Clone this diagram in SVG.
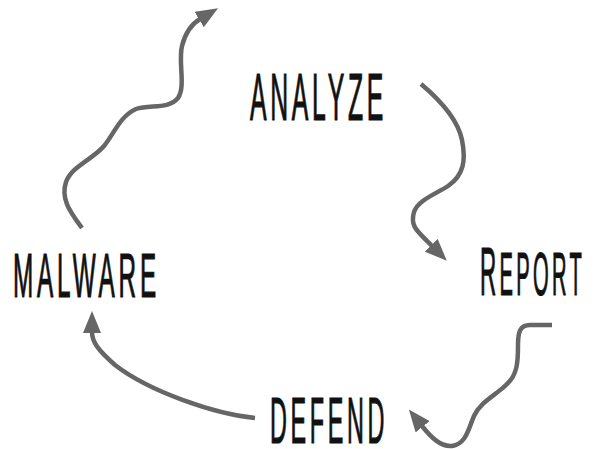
<svg xmlns="http://www.w3.org/2000/svg" width="594" height="449" viewBox="0 0 594 449">
  <style>
    .label { font-family: "Liberation Sans Narrow", "Liberation Sans", "DejaVu Sans Condensed", sans-serif; font-weight: normal; fill: #111; letter-spacing: 10px; stroke: #111; stroke-width: 1.2; }
    .flow { fill: none; stroke: #666; stroke-width: 4.5; stroke-linecap: butt; marker-end: url(#head); }
  </style>
  <defs>
    <marker id="head" viewBox="0 0 22 18" refX="1" refY="9" markerWidth="22" markerHeight="18" markerUnits="userSpaceOnUse" orient="auto">
      <path d="M0,0 L22,9 L0,18 Z" fill="#666"/>
    </marker>
  </defs>
  <rect width="594" height="449" fill="#fff"/>

  <g id="connectors">
    <!-- malware up towards analyze -->
    <path class="flow" d="M82,228 C72,214 60,200 66,182 C72,166 92,160 104,146 C114,134 120,116 136,109 C150,104 168,110 178,98 C186,86 178,62 182,46 C185,34 190,25 200,19"/>
    <!-- analyze down to report -->
    <path class="flow" d="M421,84 C440,100 458,120 462,140 C466,160 464,175 448,186 C436,194 418,200 414,212 C410,226 416,230 432,246"/>
    <!-- report down to defend -->
    <path class="flow" d="M552,325 L530,325 C520,325 518,332 518,345 C518,360 518,375 506,385 C496,395 480,402 474,416 C468,430 466,444 452,446 C440,447 430,436 422,426"/>
    <!-- defend back to malware -->
    <path class="flow" d="M255,418 C215,414 150,392 115,365 C98,350 92,342 92,332"/>
  </g>

  <g id="analyze">
    <text class="label" x="250" y="120" font-size="67" textLength="137" lengthAdjust="spacingAndGlyphs">ANALYZE</text>
  </g>
  <g id="report">
    <text class="label" x="480" y="295" font-size="68" textLength="105" lengthAdjust="spacingAndGlyphs">R<tspan font-size="61" style="text-transform:uppercase">eport</tspan></text>
  </g>
  <g id="malware">
    <text class="label" x="13" y="297" font-size="63" textLength="147" lengthAdjust="spacingAndGlyphs">MALWARE</text>
  </g>
  <g id="defend">
    <text class="label" x="270" y="443" font-size="64" textLength="118" lengthAdjust="spacingAndGlyphs">DEFEND</text>
  </g>
</svg>
